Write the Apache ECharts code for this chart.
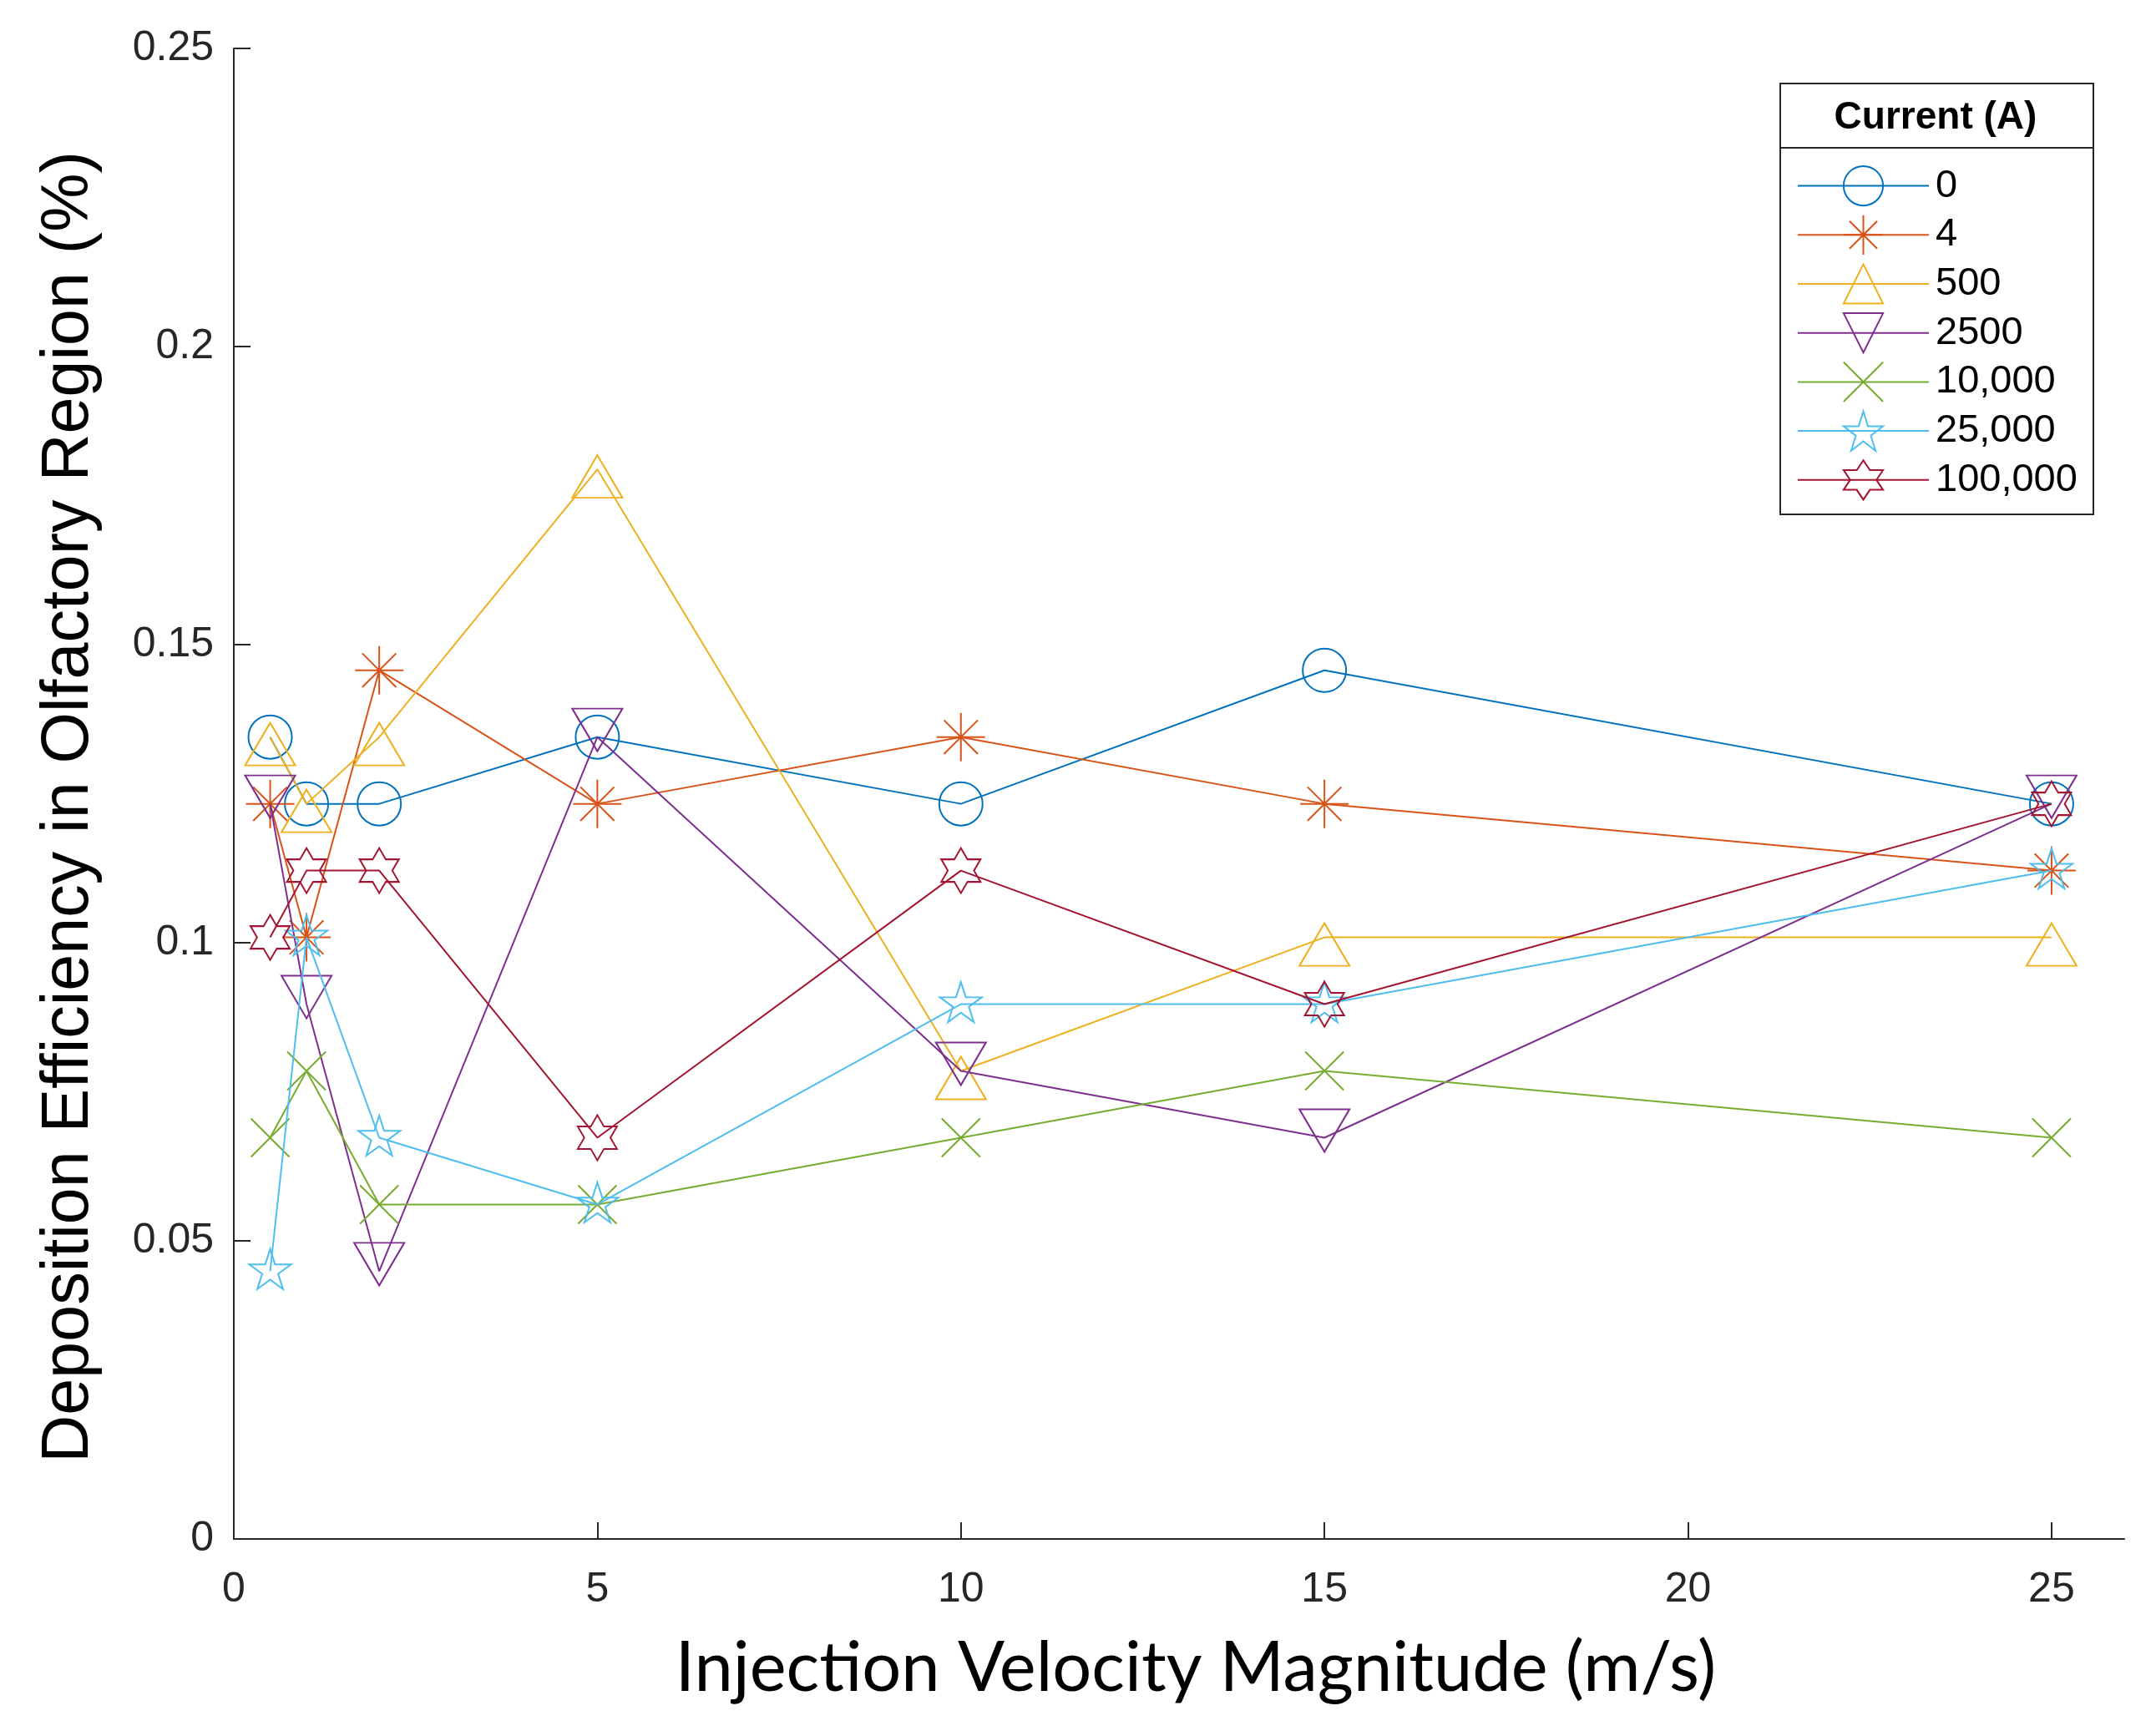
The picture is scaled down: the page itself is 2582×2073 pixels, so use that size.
<!DOCTYPE html>
<html><head><meta charset="utf-8">
<script src="https://cdn.jsdelivr.net/npm/echarts@6/dist/echarts.min.js"></script>
<style>html,body{margin:0;padding:0;background:#fff}#c{width:2582px;height:2073px}</style>
</head><body><div id="c"></div>
<script>
// ---- data ----
const velocities = [0.5, 1, 2, 5, 10, 15, 25];
const seriesNames = ['0', '4', '500', '2500', '10,000', '25,000', '100,000'];
const current0      = [0.1345, 0.1233, 0.1233, 0.1345, 0.1233, 0.1457, 0.1233];
const current4      = [0.1233, 0.1009, 0.1457, 0.1233, 0.1345, 0.1233, 0.1121];
const current500    = [0.1345, 0.1233, 0.1345, 0.1794, 0.0785, 0.1009, 0.1009];
const current2500   = [0.1233, 0.0897, 0.0449, 0.1345, 0.0785, 0.0673, 0.1233];
const current10000  = [0.0673, 0.0785, 0.0561, 0.0561, 0.0673, 0.0785, 0.0673];
const current25000  = [0.0449, 0.1009, 0.0673, 0.0561, 0.0897, 0.0897, 0.1121];
const current100000 = [0.1009, 0.1121, 0.1121, 0.0673, 0.1121, 0.0897, 0.1233];
const xTicks = [0, 5, 10, 15, 20, 25];
const yTicks = [0, 0.05, 0.1, 0.15, 0.2, 0.25];

const allValues = [current0, current4, current500, current2500, current10000, current25000, current100000];
const colors = ['#0072BD', '#D95319', '#EDB120', '#7E2F8E', '#77AC30', '#4DBEEE', '#A2142F'];

function starPath(n, rOut, rIn) {
  let d = '';
  for (let i = 0; i < 2 * n; i++) {
    const r = i % 2 ? rIn : rOut;
    const a = Math.PI * i / n - Math.PI / 2;
    d += (i ? 'L' : 'M') + (r * Math.cos(a)).toFixed(4) + ',' + (r * Math.sin(a)).toFixed(4);
  }
  return 'path://' + d + 'Z';
}
const markerDefs = [
  { symbol: 'circle', size: [52, 52], offset: [0, 0] },
  { symbol: 'path://M0,-1L0,1M-1,0L1,0M-0.7,-0.7L0.7,0.7M-0.7,0.7L0.7,-0.7', size: [58, 58], offset: [0, 0] },
  { symbol: 'path://M0,-1L1,1L-1,1Z', size: [60, 51], offset: [0, 8.5] },
  { symbol: 'path://M-1,-1L1,-1L0,1Z', size: [60, 51], offset: [0, -8.5] },
  { symbol: 'path://M-1,-1L1,1M-1,1L1,-1', size: [46, 46], offset: [0, 0] },
  { symbol: starPath(5, 1, 0.382), size: [50, 48], offset: [0, -2.5] },
  { symbol: starPath(6, 1, 0.5774), size: [47, 54], offset: [0, 0] }
];

const series = allValues.map((vals, i) => ({
  name: seriesNames[i],
  type: 'line',
  data: velocities.map((x, j) => [x, vals[j]]),
  symbol: markerDefs[i].symbol,
  symbolSize: markerDefs[i].size,
  symbolOffset: markerDefs[i].offset,
  showAllSymbol: true,
  clip: false,
  silent: true,
  itemStyle: { color: 'rgba(0,0,0,0)', borderColor: colors[i], borderWidth: 2 },
  lineStyle: { color: colors[i], width: 2 },
  emphasis: { disabled: true },
  z: 2 + i
}));

const axisColor = '#262626';
const chart = echarts.init(document.getElementById('c'));
chart.setOption({
  animation: false,
  backgroundColor: '#fff',
  grid: { left: 280, right: 38, top: 58, bottom: 230, containLabel: false, outerBoundsMode: 'none' },
  xAxis: {
    type: 'value', min: 0, max: 26, interval: 5,
    axisLine: { show: true, onZero: false, lineStyle: { color: axisColor, width: 2 } },
    axisTick: { show: true, inside: true, length: 20, customValues: xTicks, lineStyle: { color: axisColor, width: 2 } },
    axisLabel: { customValues: xTicks, fontSize: 50, fontFamily: 'Liberation Sans', color: axisColor, margin: 36 },
    splitLine: { show: false },
    name: 'Injection Velocity Magnitude (m/s)', nameLocation: 'middle', nameGap: 114,
    nameTextStyle: { fontFamily: 'Lato', fontSize: 83, color: '#000', padding: [0, 0, 0, 40] }
  },
  yAxis: {
    type: 'value', min: 0, max: 0.25, interval: 0.05,
    axisLine: { show: true, onZero: false, lineStyle: { color: axisColor, width: 2 } },
    axisTick: { show: true, inside: true, length: 20, customValues: yTicks, lineStyle: { color: axisColor, width: 2 } },
    axisLabel: { customValues: yTicks, fontSize: 50, fontFamily: 'Liberation Sans', color: axisColor, margin: 24 },
    splitLine: { show: false },
    name: 'Deposition Efficiency in Olfactory Region (%)', nameLocation: 'middle', nameGap: 157, nameRotate: 90,
    nameTextStyle: { fontFamily: 'Liberation Sans', fontSize: 79, color: '#000', padding: [0, 32, 0, 0] }
  },
  legend: {
    data: seriesNames,
    orient: 'vertical',
    left: 2152, top: 198,
    padding: 0,
    itemWidth: 157, itemHeight: 59, itemGap: 9.5,
    textStyle: { fontFamily: 'Liberation Sans', fontSize: 47, color: '#000', padding: [0, 0, 0, 3] },
    selectedMode: false,
    z: 10
  },
  graphic: [
    { type: 'rect', z: 5, shape: { x: 2132, y: 100, width: 375, height: 516 }, style: { fill: '#fff', stroke: axisColor, lineWidth: 2 } },
    { type: 'line', z: 6, shape: { x1: 2132, y1: 177, x2: 2507, y2: 177 }, style: { stroke: axisColor, lineWidth: 2 } },
    { type: 'text', z: 6, x: 2318, y: 141, style: { text: 'Current (A)', fontFamily: 'Liberation Sans', fontWeight: 'bold', fontSize: 46, fill: '#000', align: 'center', verticalAlign: 'middle' } }
  ],
  series: series
});
</script>
</body></html>
